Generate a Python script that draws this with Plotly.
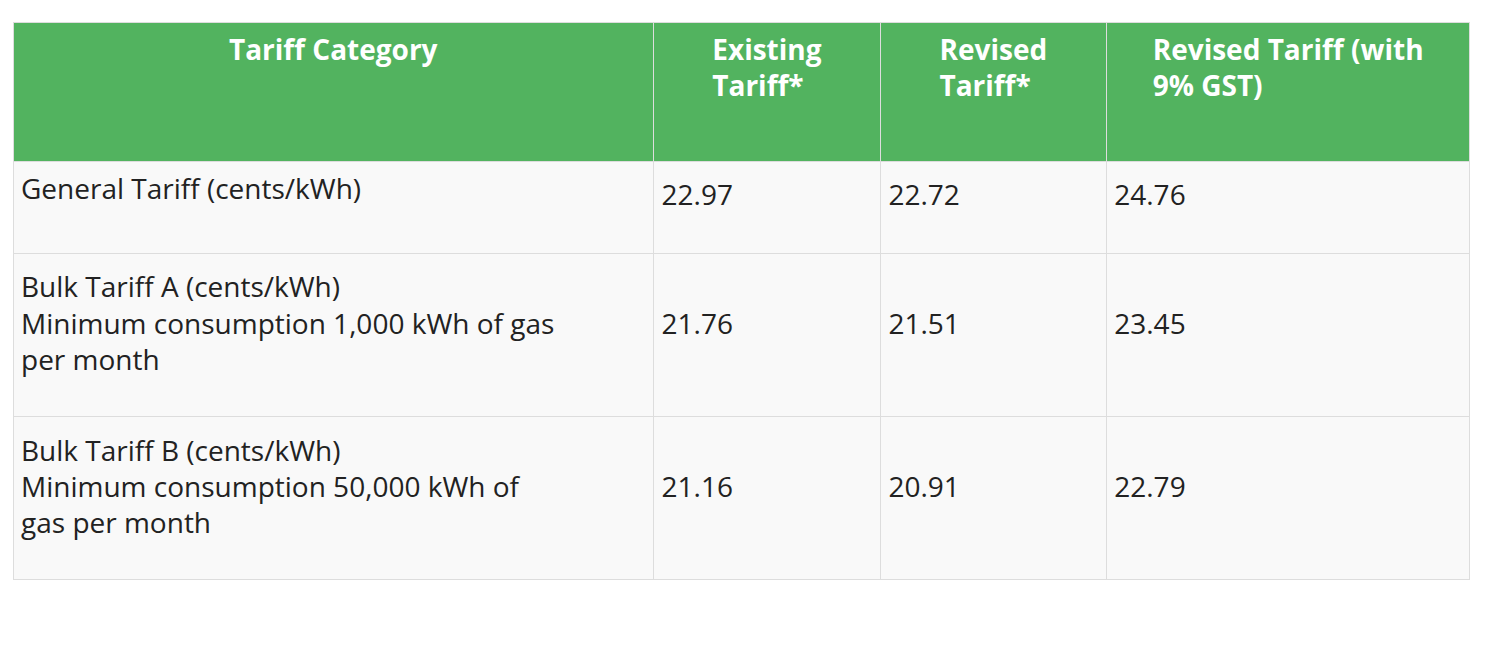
import plotly.graph_objects as go

headers = ["Tariff Category", "Existing<br>Tariff*", "Revised<br>Tariff*", "Revised Tariff (with<br>9% GST)"]
categories = [
    "General Tariff (cents/kWh)",
    "Bulk Tariff A (cents/kWh)<br>Minimum consumption 1,000 kWh of gas<br>per month",
    "Bulk Tariff B (cents/kWh)<br>Minimum consumption 50,000 kWh of<br>gas per month",
]
existing = ["22.97", "21.76", "21.16"]
revised = ["22.72", "21.51", "20.91"]
revised_gst = ["24.76", "23.45", "22.79"]


def pad_cat(vals):
    # blank lines give the rows their height (table text is top-aligned)
    return ["<br>" + vals[0]] + ["<br>" + v + "<br> " for v in vals[1:]]


def mid(vals):
    # centre single values against the tall rows
    return ["<br>" + vals[0]] + ["<br><br>" + v for v in vals[1:]]


FONT = "Open Sans, Lato, sans-serif"

fig = go.Figure(go.Table(
    columnwidth=[641, 227, 226, 364],
    header=dict(
        values=["<b><br>%s</b>" % h for h in headers],
        fill_color="#52b35f",
        line_color="#dddddd",
        align="center",
        font=dict(family=FONT, size=28, color="white"),
        height=139,
    ),
    cells=dict(
        values=[pad_cat(categories), mid(existing), mid(revised), mid(revised_gst)],
        fill_color="#f9f9f9",
        line_color="#dddddd",
        align="left",
        font=dict(family=FONT, size=28, color="#222222"),
        height=92,
    ),
    domain=dict(x=[5 / 1494, 1463 / 1494], y=[0, 1 - 14 / 654]),
))

fig.update_layout(
    width=1494, height=654,
    margin=dict(l=0, r=0, t=0, b=0),
    paper_bgcolor="white",
)

fig.write_html("out.html")
